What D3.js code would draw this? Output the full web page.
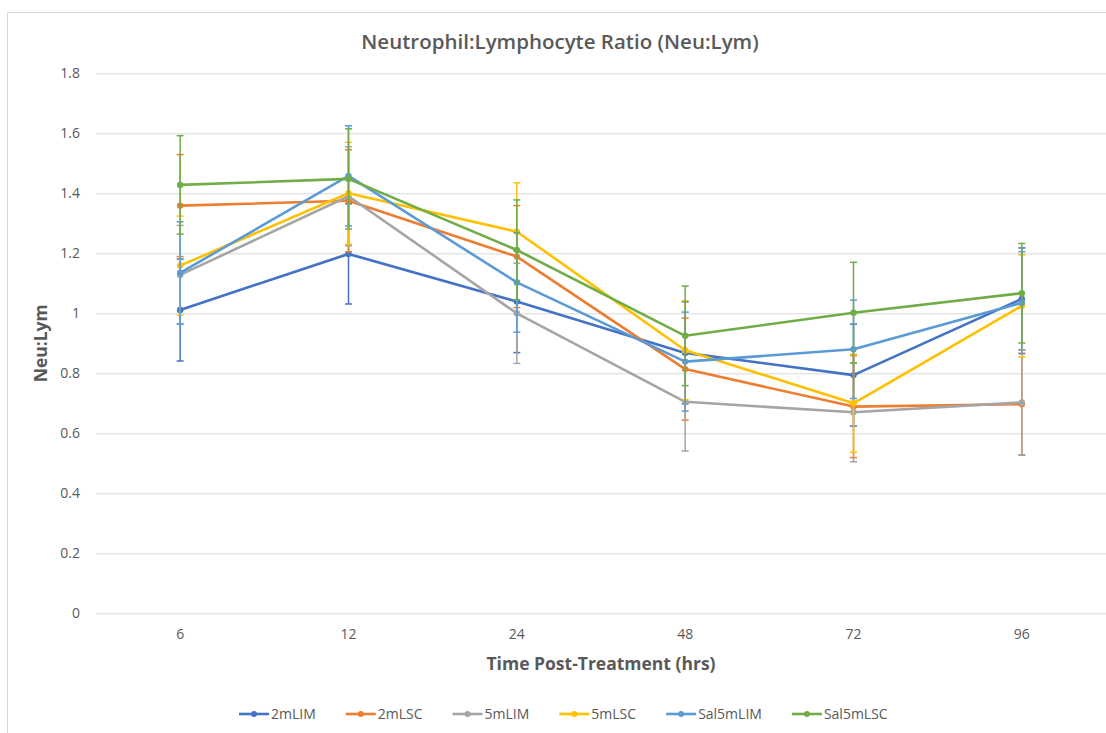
<!DOCTYPE html>
<html>
<head>
<meta charset="utf-8">
<script src="https://cdn.jsdelivr.net/npm/d3@7"></script>
<style>
  html, body { margin: 0; padding: 0; background: #fff; }
  svg { display: block; font-family: "Open Sans", Lato, sans-serif; }
</style>
</head>
<body>
<svg id="chart" width="1106" height="733"></svg>
<script>
// Sampling times (hours after treatment)
const categories = ["6", "12", "24", "48", "72", "96"];

// Treatment groups
const seriesNames = ["2mLIM", "2mLSC", "5mLIM", "5mLSC", "Sal5mLIM", "Sal5mLSC"];
const seriesColors = ["#4472C4", "#ED7D31", "#A5A5A5", "#FFC000", "#5B9BD5", "#70AD47"];

// Mean Neu:Lym ratio per group
const val2mLIM    = [1.011, 1.198, 1.039, 0.868, 0.794, 1.048];
const val2mLSC    = [1.359, 1.375, 1.189, 0.814, 0.689, 0.697];
const val5mLIM    = [1.128, 1.390, 1.000, 0.705, 0.670, 0.703];
const val5mLSC    = [1.159, 1.400, 1.272, 0.877, 0.700, 1.025];
const valSal5mLIM = [1.135, 1.458, 1.103, 0.839, 0.880, 1.035];
const valSal5mLSC = [1.428, 1.448, 1.211, 0.925, 1.002, 1.067];

// Error (±) per group
const err2mLIM    = [0.170, 0.167, 0.170, 0.170, 0.170, 0.170];
const err2mLSC    = [0.170, 0.170, 0.170, 0.170, 0.170, 0.170];
const err5mLIM    = [0.165, 0.165, 0.167, 0.164, 0.165, 0.175];
const err5mLSC    = [0.165, 0.170, 0.163, 0.165, 0.163, 0.170];
const errSal5mLIM = [0.170, 0.167, 0.166, 0.165, 0.164, 0.170];
const errSal5mLSC = [0.164, 0.167, 0.167, 0.166, 0.168, 0.166];

const yTicks = [0, 0.2, 0.4, 0.6, 0.8, 1, 1.2, 1.4, 1.6, 1.8];

const seriesValues = [val2mLIM, val2mLSC, val5mLIM, val5mLSC, valSal5mLIM, valSal5mLSC];
const seriesErrors = [err2mLIM, err2mLSC, err5mLIM, err5mLSC, errSal5mLIM, errSal5mLSC];

const series = seriesNames.map((name, i) => ({
  name,
  color: seriesColors[i],
  points: categories.map((c, j) => ({ cat: c, v: seriesValues[i][j], e: seriesErrors[i][j] }))
}));

const svg = d3.select("#chart");
const textColor = "#595959";
const font = "'Open Sans', Lato, sans-serif";

// chart-area frame
svg.append("rect")
  .attr("x", 7.5).attr("y", 12.5)
  .attr("width", 1120).attr("height", 760)
  .attr("fill", "none").attr("stroke", "#d9d9d9").attr("stroke-width", 1);

const plot = { left: 96, right: 1106, top: 73.3, bottom: 613.3 };

const x = d3.scaleBand().domain(categories).range([plot.left, plot.right]);
const xc = c => x(c) + x.bandwidth() / 2;
const y = d3.scaleLinear().domain([0, 1.8]).range([plot.bottom, plot.top]);

// gridlines + y tick labels
const yAxis = d3.axisLeft(y).tickValues(yTicks).tickSize(-(plot.right - plot.left + 20))
  .tickPadding(16).tickFormat(d3.format("~g"));
const gy = svg.append("g").attr("transform", `translate(${plot.left},0)`).call(yAxis);
gy.select(".domain").remove();
gy.selectAll(".tick line").attr("stroke", "#d9d9d9").attr("stroke-width", 1);
gy.selectAll(".tick text").attr("fill", textColor).attr("font-size", 14)
  .attr("font-family", font);

// x tick labels
const xAxis = d3.axisBottom(x).tickSize(0).tickPadding(16);
const gx = svg.append("g").attr("transform", `translate(0,${plot.bottom})`).call(xAxis);
gx.select(".domain").remove();
gx.selectAll(".tick text").attr("fill", textColor).attr("font-size", 14)
  .attr("font-family", font);

// series: error bars, line, markers
const line = d3.line().x(d => xc(d.cat)).y(d => y(d.v));
series.forEach(s => {
  const g = svg.append("g");
  const eb = g.selectAll("g.err").data(s.points).join("g").attr("class", "err")
    .attr("stroke", s.color).attr("stroke-width", 1.5);
  eb.append("line")
    .attr("x1", d => xc(d.cat)).attr("x2", d => xc(d.cat))
    .attr("y1", d => y(d.v - d.e)).attr("y2", d => y(d.v + d.e));
  eb.append("line")
    .attr("x1", d => xc(d.cat) - 3.5).attr("x2", d => xc(d.cat) + 3.5)
    .attr("y1", d => y(d.v + d.e)).attr("y2", d => y(d.v + d.e));
  eb.append("line")
    .attr("x1", d => xc(d.cat) - 3.5).attr("x2", d => xc(d.cat) + 3.5)
    .attr("y1", d => y(d.v - d.e)).attr("y2", d => y(d.v - d.e));
  g.append("path").datum(s.points)
    .attr("d", line).attr("fill", "none")
    .attr("stroke", s.color).attr("stroke-width", 2.6)
    .attr("stroke-linejoin", "round");
  g.selectAll("circle").data(s.points).join("circle")
    .attr("cx", d => xc(d.cat)).attr("cy", d => y(d.v)).attr("r", 3.2)
    .attr("fill", s.color);
});

// title
svg.append("text")
  .attr("x", 560).attr("y", 49).attr("text-anchor", "middle")
  .attr("fill", textColor).attr("font-size", 20.5).attr("font-weight", 600)
  .text("Neutrophil:Lymphocyte Ratio (Neu:Lym)");

// axis titles
svg.append("text")
  .attr("x", (plot.left + plot.right) / 2).attr("y", 670).attr("text-anchor", "middle")
  .attr("fill", textColor).attr("font-size", 17.5).attr("font-weight", 700)
  .text("Time Post-Treatment (hrs)");
svg.append("text")
  .attr("transform", `translate(47,${(plot.top + plot.bottom) / 2}) rotate(-90)`)
  .attr("text-anchor", "middle")
  .attr("fill", textColor).attr("font-size", 17.5).attr("font-weight", 700)
  .text("Neu:Lym");

// legend
const legend = svg.append("g").attr("transform", "translate(239,714)");
let lx = 0;
series.forEach(s => {
  const item = legend.append("g").attr("transform", `translate(${lx},0)`);
  item.append("line").attr("x1", 0).attr("x2", 30).attr("y1", 0).attr("y2", 0)
    .attr("stroke", s.color).attr("stroke-width", 2.6);
  item.append("circle").attr("cx", 15).attr("cy", 0).attr("r", 3).attr("fill", s.color);
  const t = item.append("text").attr("x", 32).attr("y", 5)
    .attr("fill", textColor).attr("font-size", 14).attr("font-family", font).text(s.name);
  lx += 32 + t.node().getComputedTextLength() + 30;
});
</script>
</body>
</html>
